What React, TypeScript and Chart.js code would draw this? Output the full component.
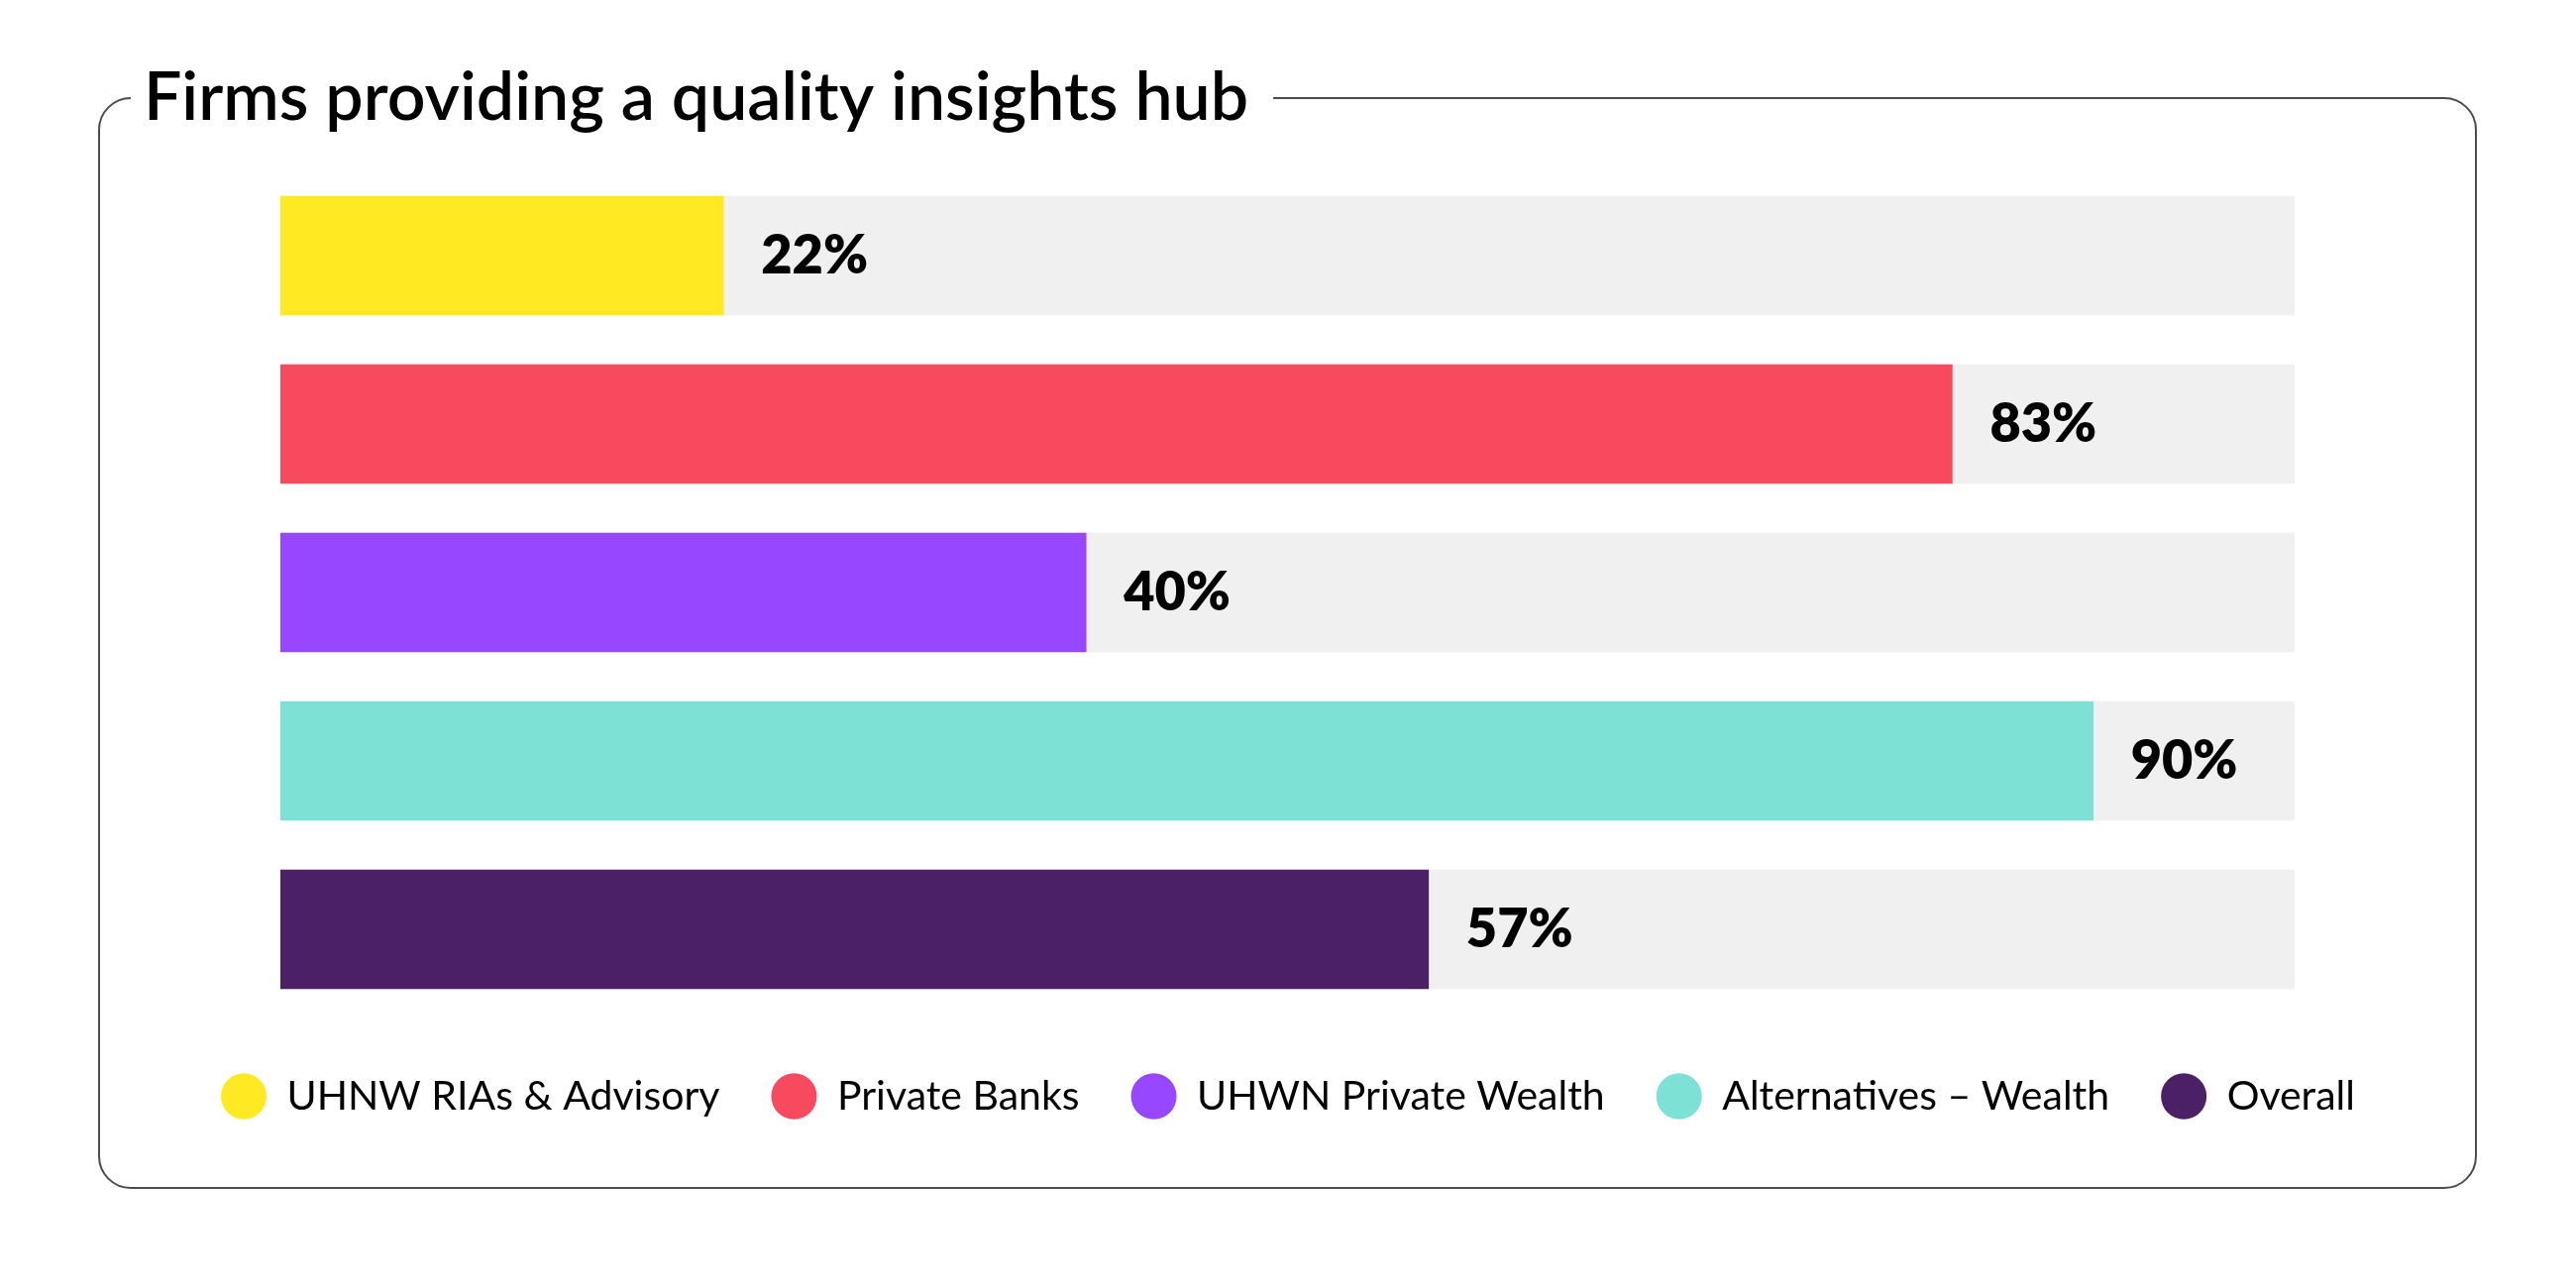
import { useEffect, useRef } from "react";
import { Chart, registerables } from "chart.js";

Chart.register(...registerables);

const chartTitle = "Firms providing a quality insights hub";
const categories = [
  "UHNW RIAs & Advisory",
  "Private Banks",
  "UHWN Private Wealth",
  "Alternatives – Wealth",
  "Overall",
];
const shares = [22, 83, 40, 90, 57];
const trackValues = [100, 100, 100, 100, 100];
const barColors = ["#FFE923", "#F84A5E", "#9747FF", "#7DE1D5", "#4C2066"];
const trackColor = "#F0F0F0";

const fontFamily = "Lato";
const titleSize = 68;
const titleWeight = 600;

// rounded frame with a gap where the title sits
const framePlugin = {
  id: "frame",
  beforeDraw(chart: Chart) {
    const { ctx } = chart;
    const left = 100;
    const right = 2499;
    const top = 99;
    const bottom = 1199;
    const r = 32;
    ctx.save();
    ctx.font = `${titleWeight} ${titleSize}px ${fontFamily}`;
    const gapEnd = 145 + ctx.measureText(chartTitle).width + 25;
    ctx.strokeStyle = "#4d4d4d";
    ctx.lineWidth = 2;
    ctx.beginPath();
    ctx.moveTo(gapEnd, top);
    ctx.lineTo(right - r, top);
    ctx.arcTo(right, top, right, top + r, r);
    ctx.lineTo(right, bottom - r);
    ctx.arcTo(right, bottom, right - r, bottom, r);
    ctx.lineTo(left + r, bottom);
    ctx.arcTo(left, bottom, left, bottom - r, r);
    ctx.lineTo(left, top + r);
    ctx.arcTo(left, top, left + r, top, r);
    ctx.stroke();
    ctx.restore();
  },
};

// percentage labels just past the end of each coloured bar
const valueLabelPlugin = {
  id: "valueLabels",
  afterDatasetsDraw(chart: Chart) {
    const { ctx } = chart;
    const meta = chart.getDatasetMeta(0);
    ctx.save();
    ctx.font = `800 54px ${fontFamily}`;
    ctx.fillStyle = "#000";
    ctx.textBaseline = "middle";
    ctx.textAlign = "left";
    meta.data.forEach((bar, i) => {
      ctx.fillText(`${shares[i]}%`, bar.x + 38, bar.y + 1);
    });
    ctx.restore();
  },
};

export default function App() {
  const canvasRef = useRef<HTMLCanvasElement>(null);

  useEffect(() => {
    if (!canvasRef.current) return;

    const chart = new Chart(canvasRef.current, {
      type: "bar",
      data: {
        labels: categories,
        datasets: [
          {
            label: "Share",
            data: shares,
            backgroundColor: barColors,
            borderWidth: 0,
            grouped: false,
            barThickness: 120,
          },
          {
            label: "Track",
            data: trackValues,
            backgroundColor: trackColor,
            borderWidth: 0,
            grouped: false,
            barThickness: 120,
          },
        ],
      },
      options: {
        indexAxis: "y",
        responsive: true,
        maintainAspectRatio: false,
        animation: false,
        layout: { padding: { left: 145, right: 145, top: 0, bottom: 163 } },
        scales: {
          x: {
            min: 0,
            max: 100,
            ticks: { display: false },
            grid: { display: false },
            border: { display: false },
            afterFit: (s) => {
              s.height = 11;
            },
          },
          y: {
            ticks: { display: false },
            grid: { display: false },
            border: { display: false },
            afterFit: (s) => {
              s.width = 138;
            },
          },
          y2: {
            axis: "y",
            position: "right",
            ticks: { display: false },
            grid: { display: false },
            border: { display: false },
            afterFit: (s) => {
              s.width = 139;
            },
          },
        },
        plugins: {
          title: {
            display: true,
            text: chartTitle,
            align: "start",
            color: "#000",
            font: {
              family: fontFamily,
              size: titleSize,
              weight: titleWeight,
              lineHeight: 1,
            },
            padding: { top: 65, bottom: 40 },
          },
          legend: {
            display: true,
            position: "bottom",
            onClick: () => {},
            labels: {
              usePointStyle: true,
              pointStyleWidth: 46,
              boxHeight: 33,
              padding: 52,
              color: "#000",
              font: { family: fontFamily, size: 41, weight: "normal" },
              generateLabels: () =>
                categories.map((c, i) => ({
                  text: c,
                  fillStyle: barColors[i],
                  strokeStyle: barColors[i],
                  lineWidth: 0,
                  pointStyle: "circle",
                  hidden: false,
                  index: i,
                })),
            },
          },
          tooltip: { enabled: false },
        },
      },
      plugins: [framePlugin, valueLabelPlugin],
    });

    return () => chart.destroy();
  }, []);

  return (
    <div
      style={{
        position: "absolute",
        left: 0,
        top: 0,
        width: 2600,
        height: 1300,
        background: "#fff",
      }}
    >
      <canvas ref={canvasRef} />
    </div>
  );
}
